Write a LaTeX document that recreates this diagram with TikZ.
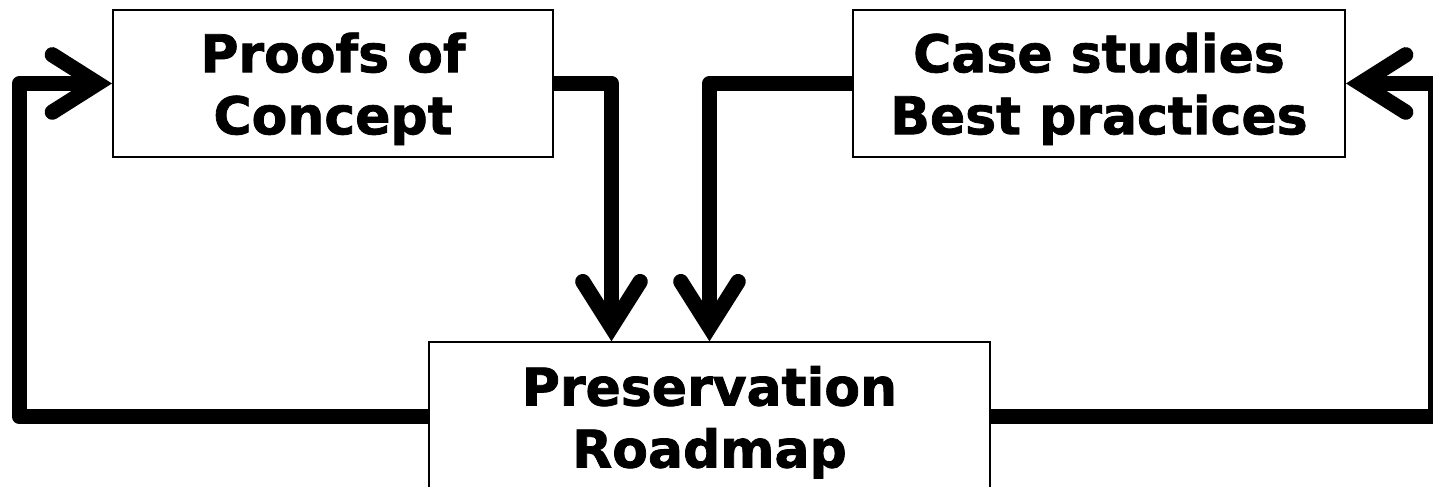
\documentclass[tikz,border=0pt]{standalone}
\usepackage{fontspec}
\setmainfont{DejaVu Sans}[BoldFeatures={FakeBold=1.5}]
\usetikzlibrary{arrows.meta}

\begin{document}
\begin{tikzpicture}[
  box/.style={draw,line width=1.5pt,align=center,text depth=0pt,inner sep=0pt,minimum height=110.25pt,font=\fontsize{39}{46.5}\selectfont\bfseries},
  flow/.style={line width=11.5pt,line join=round,-{Straight Barb[length=34pt,width=43pt,line cap=round,line join=miter]}}]
\useasboundingbox (0,0) rectangle (1074.75pt,-364.5pt);
\node (POC) at (249.75pt,-62.6pt)[box,minimum width=330pt] {Proofs of\\Concept};
\node (CS) at (824.25pt,-62.6pt)[box,minimum width=369pt] {Case studies\\Best practices};
\node (PR) at (532.1pt,-312.6pt)[box,minimum width=420.75pt,minimum height=111.75pt] {Preservation\\Roadmap};
\coordinate (L) at (14.6pt,0);
\coordinate (R) at (1076.6pt,0);
\draw [flow] (PR.west) -- (PR.west -| L) |- (POC.west);
\draw [flow] (PR.east) -- (PR.east -| R) |- (CS.east);
\draw [flow] (POC.east) -| ([xshift=-73.5pt]PR.north);
\draw [flow] (CS.west) -| (PR.north);
\end{tikzpicture}
\end{document}
